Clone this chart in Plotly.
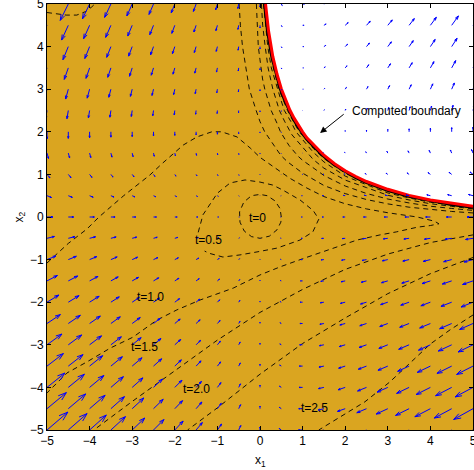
import plotly.graph_objects as go

# ---------------- data ----------------
# quiver grid (x1 columns, x2 rows from top to bottom)
X1_GRID = [-5, -4.5, -4, -3.5, -3, -2.5, -2, -1.5, -1, -0.5, 0, 0.5, 1, 1.5, 2, 2.5, 3, 3.5, 4, 4.5, 5]
X2_GRID = [5, 4.5, 4, 3.5, 3, 2.5, 2, 1.5, 1, 0.5, 0, -0.5, -1, -1.5, -2, -2.5, -3, -3.5, -4, -4.5, -5]

# velocity components for every grid arrow (rows follow X2_GRID)
U_ROWS = [
    [-15, -13.5, -12, -10.5, -9, -7.5, -6, -4.5, -3, -1.5, 0, 1.5, 3, 4.5, 6, 7.5, 9, 10.5, 12, 13.5, 15],
    [-12.5, -11.25, -10, -8.75, -7.5, -6.25, -5, -3.75, -2.5, -1.25, 0, 1.25, 2.5, 3.75, 5, 6.25, 7.5, 8.75, 10, 11.25, 12.5],
    [-10, -9, -8, -7, -6, -5, -4, -3, -2, -1, 0, 1, 2, 3, 4, 5, 6, 7, 8, 9, 10],
    [-7.5, -6.75, -6, -5.25, -4.5, -3.75, -3, -2.25, -1.5, -0.75, 0, 0.75, 1.5, 2.25, 3, 3.75, 4.5, 5.25, 6, 6.75, 7.5],
    [-5, -4.5, -4, -3.5, -3, -2.5, -2, -1.5, -1, -0.5, 0, 0.5, 1, 1.5, 2, 2.5, 3, 3.5, 4, 4.5, 5],
    [-2.5, -2.25, -2, -1.75, -1.5, -1.25, -1, -0.75, -0.5, -0.25, 0, 0.25, 0.5, 0.75, 1, 1.25, 1.5, 1.75, 2, 2.25, 2.5],
    [0, 0, 0, 0, 0, 0, 0, 0, 0, 0, 0, 0, 0, 0, 0, 0, 0, 0, 0, 0, 0],
    [2.5, 2.25, 2, 1.75, 1.5, 1.25, 1, 0.75, 0.5, 0.25, 0, -0.25, -0.5, -0.75, -1, -1.25, -1.5, -1.75, -2, -2.25, -2.5],
    [5, 4.5, 4, 3.5, 3, 2.5, 2, 1.5, 1, 0.5, 0, -0.5, -1, -1.5, -2, -2.5, -3, -3.5, -4, -4.5, -5],
    [7.5, 6.75, 6, 5.25, 4.5, 3.75, 3, 2.25, 1.5, 0.75, 0, -0.75, -1.5, -2.25, -3, -3.75, -4.5, -5.25, -6, -6.75, -7.5],
    [10, 9, 8, 7, 6, 5, 4, 3, 2, 1, 0, -1, -2, -3, -4, -5, -6, -7, -8, -9, -10],
    [12.5, 11.25, 10, 8.75, 7.5, 6.25, 5, 3.75, 2.5, 1.25, 0, -1.25, -2.5, -3.75, -5, -6.25, -7.5, -8.75, -10, -11.25, -12.5],
    [15, 13.5, 12, 10.5, 9, 7.5, 6, 4.5, 3, 1.5, 0, -1.5, -3, -4.5, -6, -7.5, -9, -10.5, -12, -13.5, -15],
    [17.5, 15.75, 14, 12.25, 10.5, 8.75, 7, 5.25, 3.5, 1.75, 0, -1.75, -3.5, -5.25, -7, -8.75, -10.5, -12.25, -14, -15.75, -17.5],
    [20, 18, 16, 14, 12, 10, 8, 6, 4, 2, 0, -2, -4, -6, -8, -10, -12, -14, -16, -18, -20],
    [22.5, 20.25, 18, 15.75, 13.5, 11.25, 9, 6.75, 4.5, 2.25, 0, -2.25, -4.5, -6.75, -9, -11.25, -13.5, -15.75, -18, -20.25, -22.5],
    [25, 22.5, 20, 17.5, 15, 12.5, 10, 7.5, 5, 2.5, 0, -2.5, -5, -7.5, -10, -12.5, -15, -17.5, -20, -22.5, -25],
    [27.5, 24.75, 22, 19.25, 16.5, 13.75, 11, 8.25, 5.5, 2.75, 0, -2.75, -5.5, -8.25, -11, -13.75, -16.5, -19.25, -22, -24.75, -27.5],
    [30, 27, 24, 21, 18, 15, 12, 9, 6, 3, 0, -3, -6, -9, -12, -15, -18, -21, -24, -27, -30],
    [32.5, 29.25, 26, 22.75, 19.5, 16.25, 13, 9.75, 6.5, 3.25, 0, -3.25, -6.5, -9.75, -13, -16.25, -19.5, -22.75, -26, -29.25, -32.5],
    [35, 31.5, 28, 24.5, 21, 17.5, 14, 10.5, 7, 3.5, 0, -3.5, -7, -10.5, -14, -17.5, -21, -24.5, -28, -31.5, -35],
]
V_ROWS = [
    [-30, -27.5, -25, -22.5, -20, -17.5, -15, -12.5, -10, -7.5, -5, -2.5, 0, 2.5, 5, 7.5, 10, 12.5, 15, 17.5, 20],
    [-27, -24.75, -22.5, -20.25, -18, -15.75, -13.5, -11.25, -9, -6.75, -4.5, -2.25, 0, 2.25, 4.5, 6.75, 9, 11.25, 13.5, 15.75, 18],
    [-24, -22, -20, -18, -16, -14, -12, -10, -8, -6, -4, -2, 0, 2, 4, 6, 8, 10, 12, 14, 16],
    [-21, -19.25, -17.5, -15.75, -14, -12.25, -10.5, -8.75, -7, -5.25, -3.5, -1.75, 0, 1.75, 3.5, 5.25, 7, 8.75, 10.5, 12.25, 14],
    [-18, -16.5, -15, -13.5, -12, -10.5, -9, -7.5, -6, -4.5, -3, -1.5, 0, 1.5, 3, 4.5, 6, 7.5, 9, 10.5, 12],
    [-15, -13.75, -12.5, -11.25, -10, -8.75, -7.5, -6.25, -5, -3.75, -2.5, -1.25, 0, 1.25, 2.5, 3.75, 5, 6.25, 7.5, 8.75, 10],
    [-12, -11, -10, -9, -8, -7, -6, -5, -4, -3, -2, -1, 0, 1, 2, 3, 4, 5, 6, 7, 8],
    [-9, -8.25, -7.5, -6.75, -6, -5.25, -4.5, -3.75, -3, -2.25, -1.5, -0.75, 0, 0.75, 1.5, 2.25, 3, 3.75, 4.5, 5.25, 6],
    [-6, -5.5, -5, -4.5, -4, -3.5, -3, -2.5, -2, -1.5, -1, -0.5, 0, 0.5, 1, 1.5, 2, 2.5, 3, 3.5, 4],
    [-3, -2.75, -2.5, -2.25, -2, -1.75, -1.5, -1.25, -1, -0.75, -0.5, -0.25, 0, 0.25, 0.5, 0.75, 1, 1.25, 1.5, 1.75, 2],
    [0, 0, 0, 0, 0, 0, 0, 0, 0, 0, 0, 0, 0, 0, 0, 0, 0, 0, 0, 0, 0],
    [3, 2.75, 2.5, 2.25, 2, 1.75, 1.5, 1.25, 1, 0.75, 0.5, 0.25, 0, -0.25, -0.5, -0.75, -1, -1.25, -1.5, -1.75, -2],
    [6, 5.5, 5, 4.5, 4, 3.5, 3, 2.5, 2, 1.5, 1, 0.5, 0, -0.5, -1, -1.5, -2, -2.5, -3, -3.5, -4],
    [9, 8.25, 7.5, 6.75, 6, 5.25, 4.5, 3.75, 3, 2.25, 1.5, 0.75, 0, -0.75, -1.5, -2.25, -3, -3.75, -4.5, -5.25, -6],
    [12, 11, 10, 9, 8, 7, 6, 5, 4, 3, 2, 1, 0, -1, -2, -3, -4, -5, -6, -7, -8],
    [15, 13.75, 12.5, 11.25, 10, 8.75, 7.5, 6.25, 5, 3.75, 2.5, 1.25, 0, -1.25, -2.5, -3.75, -5, -6.25, -7.5, -8.75, -10],
    [18, 16.5, 15, 13.5, 12, 10.5, 9, 7.5, 6, 4.5, 3, 1.5, 0, -1.5, -3, -4.5, -6, -7.5, -9, -10.5, -12],
    [21, 19.25, 17.5, 15.75, 14, 12.25, 10.5, 8.75, 7, 5.25, 3.5, 1.75, 0, -1.75, -3.5, -5.25, -7, -8.75, -10.5, -12.25, -14],
    [24, 22, 20, 18, 16, 14, 12, 10, 8, 6, 4, 2, 0, -2, -4, -6, -8, -10, -12, -14, -16],
    [27, 24.75, 22.5, 20.25, 18, 15.75, 13.5, 11.25, 9, 6.75, 4.5, 2.25, 0, -2.25, -4.5, -6.75, -9, -11.25, -13.5, -15.75, -18],
    [30, 27.5, 25, 22.5, 20, 17.5, 15, 12.5, 10, 7.5, 5, 2.5, 0, -2.5, -5, -7.5, -10, -12.5, -15, -17.5, -20],
]

# computed boundary (red curve)
BOUND_X1 = [0.13, 0.15, 0.2, 0.3, 0.4, 0.5, 0.6, 0.7, 0.8, 0.9, 1.0, 1.1, 1.25, 1.5, 1.75, 2.0, 2.25, 2.5, 3.0, 3.5, 4.0, 4.5, 5.0]
BOUND_X2 = [5.0, 4.8, 4.37, 3.77, 3.35, 3.01, 2.75, 2.51, 2.32, 2.15, 2.0, 1.86, 1.7, 1.45, 1.25, 1.085, 0.95, 0.833, 0.65, 0.508, 0.401, 0.318, 0.253]

# level-set contours (dashed); each level is a list of pieces of (x1, x2) points
T0 = [[(0.5, 0), (0.47, 0.2), (0.35, 0.38), (0.17, 0.5), (0, 0.53), (-0.2, 0.5), (-0.38, 0.35), (-0.48, 0.12),
       (-0.47, -0.12), (-0.37, -0.33), (-0.2, -0.46), (0, -0.5), (0.22, -0.45), (0.4, -0.3), (0.49, -0.12), (0.5, 0)]]
T05 = [[(-1.45, -0.36), (-1.34, 0.05), (-1.0, 0.56), (-0.7, 0.8), (-0.35, 0.87), (0, 0.82), (0.3, 0.75),
        (0.54, 0.63), (0.94, 0.4), (1.25, 0.15), (1.38, -0.05), (1.24, -0.35), (0.94, -0.54), (0.4, -0.73),
        (-0.07, -0.82), (-0.47, -0.89), (-0.87, -0.94), (-1.2, -0.85), (-1.3, -0.8)]]
T10 = [[(-5, -1.08), (-4.5, -0.62), (-4.06, -0.28), (-3.78, 0), (-3.2, 0.5), (-2.58, 0.99), (-2.28, 1.27),
        (-1.8, 1.69), (-1.48, 1.88), (-1.13, 2.0), (-0.9, 2.0), (-0.54, 1.88), (-0.23, 1.62), (0, 1.4),
        (0.2, 1.26), (0.4, 1.12), (0.7, 0.91), (1.1, 0.68), (1.5, 0.48), (2, 0.31), (2.5, 0.19), (3, 0.1),
        (3.69, 0), (4.1, -0.1), (4.2, -0.16), (4.0, -0.2), (3.69, -0.24), (3.2, -0.35), (2.82, -0.42),
        (2.28, -0.54), (1.8, -0.7), (1, -0.98), (0.5, -1.16), (0, -1.36), (-0.63, -1.67), (-1.41, -1.95),
        (-1.95, -2.18), (-2.42, -2.42), (-2.98, -2.82), (-3.52, -3.08), (-4.06, -3.4), (-4.53, -3.66),
        (-5, -4.13)]]
T15 = [[(-5, 4.8), (-4.8, 4.78), (-4.55, 4.74), (-4.3, 4.74), (-4.1, 4.82), (-3.95, 4.93), (-3.88, 5)],
       [(-0.49, 5), (-0.46, 4.5), (-0.41, 4), (-0.25, 3), (-0.09, 2.5), (0, 2.24), (0.11, 2.0), (0.245, 1.8),
        (0.37, 1.62), (0.486, 1.45), (0.64, 1.3), (1, 1.03), (1.5, 0.74), (2, 0.549), (2.5, 0.41), (3, 0.308),
        (3.5, 0.23), (4, 0.177), (4.5, 0.13), (5, 0.095)],
       [(5, -0.42), (4, -0.6), (3, -0.87), (2, -1.23), (1, -1.7), (0, -2.24), (-1, -2.89), (-2, -3.6),
        (-3, -4.33), (-3.9, -5)]]
T20 = [[(-0.085, 5), (-0.06, 4.5), (-0.04, 4), (0, 3.69), (0.025, 3.5), (0.06, 3.24), (0.113, 3), (0.18, 2.75),
        (0.262, 2.5), (0.4, 2.2), (0.48, 2), (0.585, 1.83), (0.68, 1.68), (0.89, 1.43), (1, 1.33), (1.27, 1.14),
        (1.5, 0.975), (1.83, 0.81), (2, 0.728), (2.5, 0.552), (3, 0.422), (3.5, 0.33), (4, 0.253), (4.5, 0.2),
        (5, 0.155)],
       [(5, -0.95), (4, -1.33), (3, -1.8), (2, -2.37), (1, -2.97), (0, -3.69), (-1, -4.48), (-1.7, -5)]]
T25 = [[(0.033, 5), (0.063, 4.5), (0.122, 4), (0.19, 3.5), (0.302, 3), (0.38, 2.75), (0.456, 2.5), (0.575, 2.25),
        (0.71, 2), (0.75, 1.93), (1, 1.64), (1.18, 1.42), (1.25, 1.35), (1.5, 1.147), (2, 0.866), (2.5, 0.69),
        (3, 0.51), (3.5, 0.4), (4, 0.312), (4.5, 0.25), (5, 0.19)],
       [(5, -2.3), (4.46, -2.65), (4, -2.98), (3.52, -3.43), (3.05, -3.87), (2.46, -4.34), (1.9, -4.68),
        (1.38, -5)]]
T30 = [[(0.084, 5), (0.128, 4.5), (0.182, 4), (0.266, 3.5), (0.405, 3), (0.49, 2.75), (0.571, 2.5), (0.72, 2.25),
        (0.845, 2), (1, 1.82), (1.25, 1.52), (1.5, 1.294), (2, 0.96), (2.5, 0.758), (3, 0.565), (3.5, 0.447),
        (4, 0.345), (4.5, 0.28), (5, 0.215)]]
T35 = [[(0.106, 5), (0.152, 4.5), (0.221, 4), (0.313, 3.5), (0.444, 3), (0.545, 2.75), (0.646, 2.5), (0.78, 2.25),
        (0.92, 2), (1, 1.91), (1.25, 1.61), (1.5, 1.373), (2, 1.026), (2.5, 0.795), (3, 0.607), (3.5, 0.475),
        (4, 0.372), (4.5, 0.298), (5, 0.232)]]
T40 = [[(0.118, 5), (0.167, 4.5), (0.238, 4), (0.341, 3.5), (0.475, 3), (0.572, 2.75), (0.673, 2.5), (0.81, 2.25),
        (0.96, 2), (1, 1.957), (1.25, 1.655), (1.5, 1.41), (2, 1.056), (2.5, 0.814), (3, 0.629), (3.5, 0.492),
        (4, 0.387), (4.5, 0.308), (5, 0.243)]]
T45 = [[(0.124, 5), (0.177, 4.5), (0.249, 4), (0.352, 3.5), (0.488, 3), (0.586, 2.75), (0.687, 2.5), (0.825, 2.25),
        (0.98, 2), (1, 1.979), (1.25, 1.678), (1.5, 1.43), (2, 1.071), (2.5, 0.823), (3, 0.64), (3.5, 0.5),
        (4, 0.394), (4.5, 0.313), (5, 0.248)]]
CONTOURS = [T0, T05, T10, T15, T20, T25, T30, T35, T40, T45]

LABELS = ["t=0", "t=0.5", "t=1.0", "t=1.5", "t=2.0", "t=2.5"]
LABEL_X1 = [-0.05, -1.2, -2.58, -2.7, -1.48, 1.27]
LABEL_X2 = [-0.02, -0.54, -1.88, -3.05, -4.04, -4.48]

GOLD = "#DAA520"
FONT = "Liberation Sans, Arial, Helvetica, sans-serif"
ARROW_SCALE = 0.014
HEAD_A = 0.33
HEAD_B = 0.33

fig = go.Figure()

# dashed contours
for pieces in CONTOURS:
    xs, ys = [], []
    for piece in pieces:
        for (a, b) in piece:
            xs.append(a)
            ys.append(b)
        xs.append(None)
        ys.append(None)
    fig.add_trace(go.Scatter(x=xs, y=ys, mode="lines", line=dict(color="black", width=0.9, dash="5px,4px"),
                             hoverinfo="skip", showlegend=False))

# boundary: thin black edge on the inside, white region outside, red curve
fig.add_trace(go.Scatter(x=BOUND_X1, y=BOUND_X2, mode="lines", line=dict(color="black", width=5),
                         hoverinfo="skip", showlegend=False))
fig.add_trace(go.Scatter(x=BOUND_X1 + [5, 5, BOUND_X1[0]], y=BOUND_X2 + [BOUND_X2[-1], 5, 5],
                         mode="lines", fill="toself", fillcolor="white", line=dict(width=0),
                         hoverinfo="skip", showlegend=False))
fig.add_trace(go.Scatter(x=BOUND_X1, y=BOUND_X2, mode="lines", line=dict(color="#FF0000", width=3),
                         hoverinfo="skip", showlegend=False))

# quiver arrows (MATLAB-style shafts and open heads)
qx, qy = [], []
for i, x2 in enumerate(X2_GRID):
    for j, x1 in enumerate(X1_GRID):
        u = U_ROWS[i][j] * ARROW_SCALE
        v = V_ROWS[i][j] * ARROW_SCALE
        tx, ty = x1 + u, x2 + v
        qx += [x1, tx, None]
        qy += [x2, ty, None]
        qx += [tx - HEAD_A * (u + HEAD_B * v), tx, tx - HEAD_A * (u - HEAD_B * v), None]
        qy += [ty - HEAD_A * (v - HEAD_B * u), ty, ty - HEAD_A * (v + HEAD_B * u), None]
fig.add_trace(go.Scatter(x=qx, y=qy, mode="lines", line=dict(color="#0000FF", width=1),
                         hoverinfo="skip", showlegend=False))

# contour labels
for txt, lx, ly in zip(LABELS, LABEL_X1, LABEL_X2):
    fig.add_annotation(x=lx, y=ly, text=txt, showarrow=False,
                       font=dict(family=FONT, size=12, color="black"))

# computed boundary annotation
fig.add_annotation(x=1.41, y=1.97, ax=2.0, ay=2.44, axref="x", ayref="y", text="",
                   showarrow=True, arrowhead=2, arrowsize=1.3, arrowwidth=1, arrowcolor="black")
fig.add_annotation(x=2.12, y=2.5, text="Computed boundary", showarrow=False, xanchor="left",
                   font=dict(family=FONT, size=12, color="black"))

# axis titles
fig.add_annotation(xref="paper", yref="paper", x=0.5, y=-0.072, yanchor="middle",
                   text="x<sub>1</sub>", showarrow=False, font=dict(family=FONT, size=12, color="black"))
fig.add_annotation(xref="paper", yref="paper", x=-0.088, y=0.5, textangle=-90,
                   text="x<sub>2</sub>", showarrow=False, font=dict(family=FONT, size=12, color="black"))

axis_common = dict(range=[-5, 5], showgrid=False, zeroline=False, showline=True, linecolor="black",
                   linewidth=1, mirror="allticks", ticks="inside", ticklen=4, tickcolor="black",
                   tickvals=[-5, -4, -3, -2, -1, 0, 1, 2, 3, 4, 5], ticklabeloverflow="allow",
                   automargin=False, tickfont=dict(family=FONT, size=12, color="black"))
fig.update_xaxes(**axis_common)
fig.update_yaxes(**axis_common)

fig.update_layout(width=474, height=470, margin=dict(l=47, r=1, t=4, b=40, autoexpand=False),
                  plot_bgcolor=GOLD, paper_bgcolor="white")

fig.write_html("out.html", config={"displayModeBar": False},
               post_script="document.body.style.margin='0px';")
